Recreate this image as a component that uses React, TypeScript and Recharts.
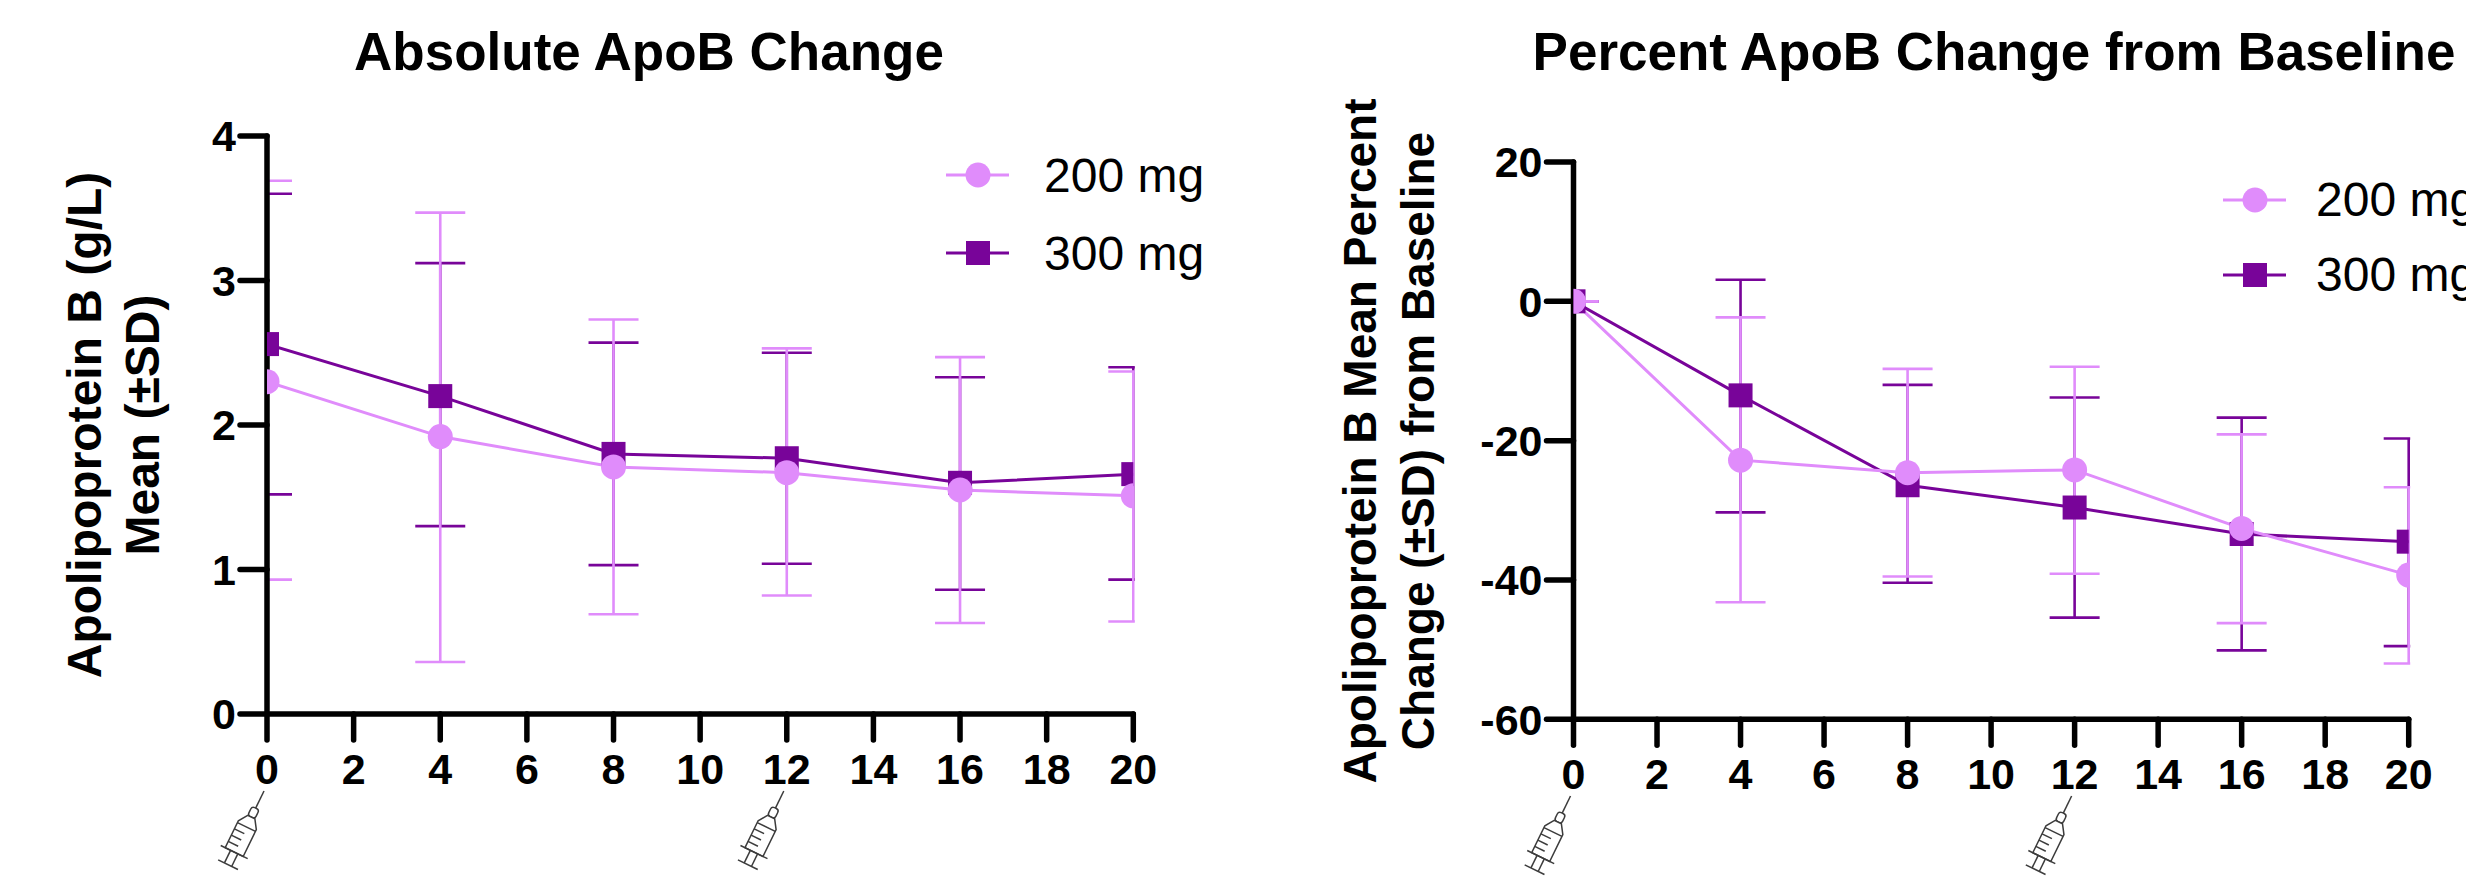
import { ErrorBar, Legend, Line, LineChart, ReferenceDot, XAxis, YAxis } from "recharts";

const PINK = "#e08cfb";
const PURPLE = "#780499";
const FONT = "Liberation Sans, Arial, sans-serif";

const weeks = [0, 4, 8, 12, 16, 20];
const weekTicks = [0, 2, 4, 6, 8, 10, 12, 14, 16, 18, 20];
const doseWeeks = [0, 12];

const absTicks = [0, 1, 2, 3, 4];
const abs200 = [2.3, 1.92, 1.71, 1.67, 1.55, 1.51];
const abs200Low = [0.93, 0.36, 0.69, 0.82, 0.63, 0.64];
const abs200High = [3.69, 3.47, 2.73, 2.53, 2.47, 2.37];
const abs300 = [2.56, 2.2, 1.8, 1.77, 1.6, 1.66];
const abs300Low = [1.52, 1.3, 1.03, 1.04, 0.86, 0.93];
const abs300High = [3.6, 3.12, 2.57, 2.5, 2.33, 2.4];

const pctTicks = [-60, -40, -20, 0, 20];
const pct200 = [0, -22.8, -24.6, -24.2, -32.6, -39.3];
const pct200Low = [0, -43.2, -39.5, -39.1, -46.2, -52];
const pct200High = [0, -2.3, -9.7, -9.4, -19.1, -26.7];
const pct300 = [0, -13.5, -26.4, -29.6, -33.4, -34.5];
const pct300Low = [0, -30.3, -40.4, -45.4, -50.1, -49.5];
const pct300High = [0, 3.1, -12, -13.8, -16.7, -19.7];

const buildRows = (a: number[], aLow: number[], aHigh: number[], b: number[], bLow: number[], bHigh: number[]) =>
  weeks.map((week, i) => ({
    week,
    a: a[i],
    aErr: [a[i] - aLow[i], aHigh[i] - a[i]],
    b: b[i],
    bErr: [b[i] - bLow[i], bHigh[i] - b[i]],
  }));

function SquareDot({ cx, cy, index }: any) {
  return <rect key={index} x={cx - 12} y={cy - 12} width={24} height={24} fill={PURPLE} />;
}

function Syringe({ cx, tipY }: any) {
  return (
    <g
      transform={`translate(${cx - 3} ${tipY}) rotate(26)`}
      fill="none"
      stroke="#3c3c3c"
      strokeWidth={1.5}
    >
      <line x1={0} y1={0} x2={0} y2={19} />
      <rect x={-4} y={19} width={8} height={10} rx={3} fill="#fff" />
      <path d="M-4 29 L-10 38 L-10 68 L10 68 L10 38 L4 29 Z" fill="#fff" />
      <line x1={-10} y1={40} x2={10} y2={40} />
      <line x1={-10} y1={47} x2={1} y2={47} />
      <line x1={-10} y1={54} x2={1} y2={54} />
      <line x1={-10} y1={61} x2={1} y2={61} />
      <line x1={-15} y1={68} x2={15} y2={68} />
      <line x1={-4} y1={68} x2={-4} y2={82} />
      <line x1={4} y1={68} x2={4} y2={82} />
      <line x1={-11} y1={82} x2={11} y2={82} />
    </g>
  );
}

function LegendBox({ payload, rowGap, textGap }: any) {
  const rows = (payload || []).filter((entry: any) => entry.type !== "none");
  return (
    <div style={{ fontFamily: FONT, fontSize: 48, color: "#000", whiteSpace: "nowrap" }}>
      {rows.map((entry: any) => (
        <div key={entry.value} style={{ display: "flex", alignItems: "center", height: rowGap }}>
          <svg width={63} height={30} style={{ overflow: "visible" }}>
            <line x1={0} y1={15} x2={63} y2={15} stroke={entry.color} strokeWidth={3} />
            {entry.value === "200 mg" ? (
              <circle cx={32} cy={15} r={12.5} fill={entry.color} />
            ) : (
              <rect x={20} y={3} width={24} height={24} fill={entry.color} />
            )}
          </svg>
          <span style={{ marginLeft: textGap }}>{entry.value}</span>
        </div>
      ))}
    </div>
  );
}

function Panel(props: any) {
  const { id, left, width, margin, rows, domain, yTicks, title, titleX, labelLines, labelSize, labelX, labelY, legendLeft, legendTop, legendGap, legendTextGap, tipY } = props;
  const tickStyle = { fontSize: 43, fontWeight: 700, fill: "#000", fontFamily: FONT };
  const axisStyle = { stroke: "#000", strokeWidth: 5.5, strokeLinecap: "round" as const };
  // error bars are cut at the plot edges like the markers
  const plotLeft = margin.left + 100;
  const plotRight = width - margin.right;
  const clipUrl = `url(#${id})`;
  return (
    <div style={{ position: "absolute", left, top: 0 }}>
      <LineChart width={width} height={877} data={rows} margin={margin}>
        <defs>
          <clipPath id={id}>
            <rect x={plotLeft - 1.5} y={0} width={plotRight - plotLeft + 3} height={877} />
          </clipPath>
        </defs>
        <XAxis
          dataKey="week"
          type="number"
          domain={[0, 20]}
          ticks={weekTicks}
          allowDataOverflow
          interval={0}
          height={100}
          tickSize={26}
          tickMargin={13}
          tick={tickStyle}
          axisLine={axisStyle}
          tickLine={axisStyle}
        />
        <YAxis
          type="number"
          domain={domain}
          ticks={yTicks}
          interval={0}
          width={100}
          tickSize={27}
          tickMargin={4}
          tick={tickStyle}
          axisLine={axisStyle}
          tickLine={axisStyle}
        />
        <Line dataKey="b" stroke="none" dot={false} legendType="none" isAnimationActive={false}>
          <ErrorBar dataKey="bErr" width={25} stroke={PURPLE} strokeWidth={2.6} clipPath={clipUrl} isAnimationActive={false} />
        </Line>
        <Line dataKey="a" stroke="none" dot={false} legendType="none" isAnimationActive={false}>
          <ErrorBar dataKey="aErr" width={25} stroke={PINK} strokeWidth={2.6} clipPath={clipUrl} isAnimationActive={false} />
        </Line>
        <Line dataKey="b" name="300 mg" type="linear" stroke={PURPLE} strokeWidth={3} dot={SquareDot} isAnimationActive={false} />
        <Line
          dataKey="a"
          name="200 mg"
          type="linear"
          stroke={PINK}
          strokeWidth={3}
          dot={{ r: 12.5, fill: PINK, stroke: PINK, strokeWidth: 0 }}
          isAnimationActive={false}
        />
        {doseWeeks.map((w) => (
          <ReferenceDot
            key={w}
            x={w}
            y={domain[0]}
            ifOverflow="visible"
            shape={(p: any) => <Syringe {...p} tipY={tipY} />}
          />
        ))}
        <Legend
          layout="vertical"
          align="center"
          verticalAlign="middle"
          width={260}
          wrapperStyle={{ left: legendLeft, top: legendTop }}
          content={(p: any) => <LegendBox {...p} rowGap={legendGap} textGap={legendTextGap} />}
        />
        <text x={titleX} y={70} textAnchor="middle" fontFamily={FONT} fontWeight={700} fontSize={53} fill="#000">
          {title}
        </text>
        <g transform={`translate(${labelX} ${labelY}) rotate(-90)`}>
          {labelLines.map((line: string, i: number) => (
            <text key={line} x={0} y={i * 58} textAnchor="middle" fontFamily={FONT} fontWeight={700} fontSize={labelSize} fill="#000">
              {line}
            </text>
          ))}
        </g>
      </LineChart>
    </div>
  );
}

export default function App() {
  return (
    <div style={{ position: "absolute", left: 0, top: 0, width: 2466, height: 877, overflow: "hidden", background: "#fff" }}>
      <Panel
        id="abs-clip"
        left={0}
        width={1233}
        margin={{ top: 136, right: 99.7, bottom: 63, left: 167 }}
        rows={buildRows(abs200, abs200Low, abs200High, abs300, abs300Low, abs300High)}
        domain={[0, 4]}
        yTicks={absTicks}
        title="Absolute ApoB Change"
        titleX={649}
        labelLines={["Apolipoprotein B (g/L)", "Mean (±SD)"]}
        labelSize={48}
        labelX={101}
        labelY={425}
        legendLeft={946}
        legendTop={136}
        legendGap={78}
        legendTextGap={35}
        tipY={791}
      />
      <Panel
        id="pct-clip"
        left={1233}
        width={1233}
        margin={{ top: 162, right: 57.3, bottom: 57.7, left: 240.5 }}
        rows={buildRows(pct200, pct200Low, pct200High, pct300, pct300Low, pct300High)}
        domain={[-60, 20]}
        yTicks={pctTicks}
        title="Percent ApoB Change from Baseline"
        titleX={761}
        labelLines={["Apolipoprotein B Mean Percent", "Change (±SD) from Baseline"]}
        labelSize={46}
        labelX={143}
        labelY={441}
        legendLeft={990}
        legendTop={162}
        legendGap={75}
        legendTextGap={30}
        tipY={796}
      />
    </div>
  );
}
